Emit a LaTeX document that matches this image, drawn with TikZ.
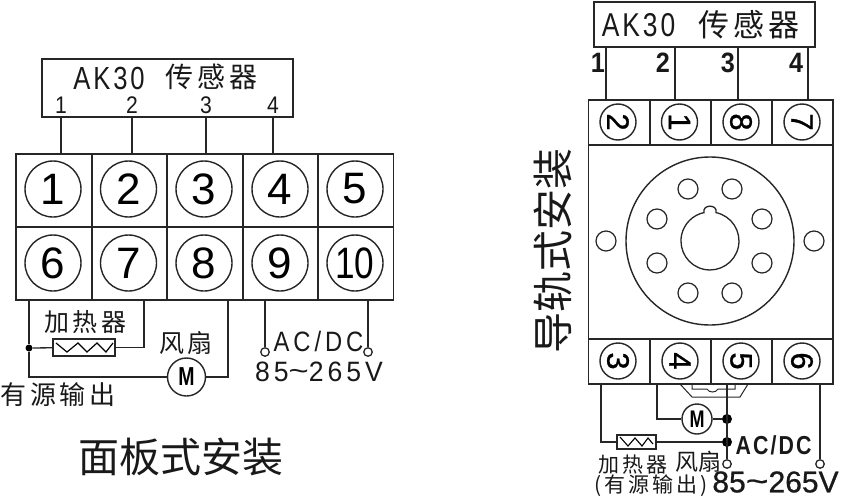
\documentclass[tikz,border=0pt]{standalone}
\usepackage{fontspec}
\setmainfont{Liberation Sans}
\newfontfamily\numf{Liberation Sans}
\newfontfamily\rotf[FakeBold=.8]{Liberation Sans}
\newfontfamily\tenf[FakeStretch=.8]{Liberation Sans}
\newfontfamily\headf[FakeStretch=.8,LetterSpace=9]{Liberation Sans}
\newfontfamily\smallf[FakeStretch=.88]{Liberation Sans}
\newfontfamily\pinf[FakeStretch=.9]{Liberation Sans}
\newfontfamily\acf[FakeStretch=.85,LetterSpace=14]{Liberation Sans}
\newfontfamily\voltf[FakeStretch=.95,LetterSpace=14]{Liberation Sans}
\newfontfamily\boldf[FakeStretch=.82,LetterSpace=8]{Liberation Sans}
\newfontfamily\rvoltf[FakeBold=.8]{Liberation Sans}
\newfontfamily\mf[FakeStretch=.75]{Liberation Sans}
\newfontfamily\cjk[LetterSpace=14]{Noto Sans CJK SC}
\newfontfamily\cjktight{Noto Sans CJK SC}
\newcommand{\fsz}[1]{\fontsize{#1}{#1}\selectfont}
\newcommand{\wtilde}{\raisebox{1pt}{\scalebox{1.3}[1]{\textasciitilde}}}
\tikzset{
  wire/.style={line width=1.3pt,black!85},
  frame/.style={draw=black!85,line width=1.6pt,inner sep=0pt,fill=white},
  ring/.style={circle,draw=black!85,line width=1.4pt,inner sep=0pt,minimum size=#1},
  label/.style={inner sep=0pt,text=black!90},
  term/.style={circle,draw=black!85,line width=1.3pt,fill=white,inner sep=0pt,minimum size=8.5pt},
  junction/.style={circle,fill=black,inner sep=0pt,minimum size=#1},
  heater/.style={draw=black!85,line width=1.4pt,fill=white,inner sep=0pt},
  hole/.style={circle,draw=black!85,line width=1.2pt,inner sep=0pt,minimum size=20pt},
}
\begin{document}
\begin{tikzpicture}[x=1pt,y=-1pt]
\useasboundingbox (0,0) rectangle (841,498);
% ---------- panel mount ----------
\node[frame,minimum width=251pt,minimum height=58pt] (lsens) at (167.5,88) {};
\node[label] (lsenstxt) at (109,78) {\fsz{32}\headf AK30};
\node[label] (lsenscn) at (211.5,77) {\fsz{28}\cjk 传感器};
\foreach \n/\x in {1/61,2/132,3/206,4/273}{
  \node[label] (ln\n) at (\x,105) {\fsz{24}\smallf \n};
  \coordinate (ls\n) at (\x,117);
  \coordinate (lt\n) at (\x,153);
  \draw[wire] (ls\n) -- (lt\n);
}
\foreach \i/\xa/\cx in {1/15/53,2/91/128.5,3/166/204,4/242/280,5/317/355}{
  \node[frame,anchor=north west,minimum width=75.5pt,minimum height=73pt] (lc\i) at (\xa,153) {};
  \node[ring=56pt] (lr\i) at (\cx,189) {\fsz{44}\numf \i};
}
\foreach \i/\xa/\cx in {6/15/53,7/91/128.5,8/166/204,9/242/280}{
  \node[frame,anchor=north west,minimum width=75.5pt,minimum height=73pt] (lc\i) at (\xa,226) {};
  \node[ring=56pt] (lr\i) at (\cx,263) {\fsz{44}\numf \i};
}
\node[frame,anchor=north west,minimum width=75.5pt,minimum height=73pt] (lc10) at (317,226) {};
\node[ring=56pt] (lr10) at (355,263) {\fsz{44}\tenf 10};
% wiring
\coordinate (w6) at (29,299);
\coordinate (w7) at (144,299);
\coordinate (w8) at (228,299);
\coordinate (w9) at (265,299);
\coordinate (w10) at (368,299);
\node[junction=7pt] (ldot) at (29,348) {};
\node[heater,minimum width=62pt,minimum height=17pt] (lheat) at (84,347.5) {};
\node[ring=38pt,fill=white] (lmot) at (186.5,377) {\fsz{26}\mf\bfseries M};
\draw[wire] (w6) -- (ldot) -- (29,377) -- (lmot);
\draw[wire] (ldot) -- (lheat);
\draw[wire] (lheat) -- (144,347.5) -- (w7);
\draw[wire] (lmot) -- (228,377) -- (w8);
\draw[line width=1.2pt] (56,343) -- (67,352) -- (78,343) -- (87,352) -- (97,343) -- (106,352) -- (113,343);
\node[term] (lta) at (265,352) {};
\node[term] (ltb) at (368,352) {};
\draw[wire] (w9) -- (lta);
\draw[wire] (w10) -- (ltb);
\node[label] (lhl) at (85,322) {\fsz{25}\cjk 加热器};
\node[label] (lfl) at (186,343) {\fsz{25}\cjk 风扇};
\node[label] (lyl) at (58,395) {\fsz{26}\cjk 有源输出};
\node[label] (lac) at (318.5,341) {\fsz{28}\acf AC/DC};
\node[label] (lv) at (319,372) {\fsz{28}\voltf 85\wtilde 265V};
\node[label] (ltitle) at (181,457) {\fsz{41}\cjktight 面板式安装};
% ---------- rail mount ----------
\node[frame,minimum width=221pt,minimum height=45pt] (rsens) at (704.5,24.5) {};
\node[label] (rsenstxt) at (638.5,25) {\fsz{33}\headf AK30};
\node[label] (rsenscn) at (749,25) {\fsz{31}\cjk 传感器};
\foreach \n/\x/\lx in {1/606/598,2/675/663,3/738/728,4/808/796}{
  \coordinate (rs\n) at (\x,47);
  \coordinate (rt\n) at (\x,99);
  \draw[wire] (rs\n) -- (rt\n);
  \node[label] (rn\n) at (\lx,63) {\fsz{28}\pinf\bfseries \n};
}
% body
\node[frame,anchor=north west,minimum width=244.5pt,minimum height=194pt] (body) at (587.5,144) {};
\foreach \n/\xa/\cx in {2/587.5/618,1/649/679.5,8/710/741,7/771/802}{
  \node[frame,anchor=north west,minimum width=61pt,minimum height=45pt] (rc\n) at (\xa,99) {};
  \node[ring=36pt] (rr\n) at (\cx,122) {\rotatebox{-90}{\fsz{31}\rotf \n}};
}
\foreach \n/\xa/\cx in {3/587.5/618,4/649/680,5/710/741,6/771/802}{
  \node[frame,anchor=north west,minimum width=61pt,minimum height=45pt] (rc\n) at (\xa,338) {};
  \node[ring=36pt] (rr\n) at (\cx,361) {\rotatebox{-90}{\fsz{31}\rotf \n}};
}
\node[ring=168pt] (base) at (710,241) {};
\draw[line width=1.3pt,black!85]
  (704,212.6) .. controls (702,204) and (718,204) .. (716,212.6)
  arc[start angle=-78,end angle=258,radius=29] -- cycle;
\foreach \k/\x/\y in {a/688/189,b/732/189,c/657/219,d/762/219,e/657/263,f/762/263,g/688/293,h/732/293,i/606/241,j/814/241}{
  \node[hole] (h\k) at (\x,\y) {};
}
\node[label,rotate=90] (rtitle) at (553,251) {\fsz{41}\cjktight 导轨式安装};
% bridge under terminals
\draw[line width=1pt,black!85] (680,384) -- (692,397) -- (740,397) -- (748,384);
\draw[line width=1pt,black!85] (692,384) -- (692,389) -- (707,389) .. controls (709,393) and (716,393) .. (718,389) -- (735,389) -- (735,384);
% rail wiring
\coordinate (b3) at (601,383);
\coordinate (b4) at (657,383);
\coordinate (b5) at (727,383);
\coordinate (b6) at (820,383);
\node[heater,minimum width=39pt,minimum height=14pt] (rheat) at (636.5,442) {};
\draw[line width=1.1pt] (620,437) -- (628,446) -- (635,438) -- (642,446) -- (648,438) -- (653,444);
\node[ring=30pt,fill=white] (rmot) at (697,419) {\fsz{24}\mf\bfseries M};
\node[junction=10pt] (rd1) at (727,419) {};
\node[junction=10pt] (rd2) at (727,442) {};
\node[term] (rta) at (727,464) {};
\node[term] (rtb) at (820,464) {};
\draw[wire] (b3) -- (601,442) -- (rheat);
\draw[wire] (rheat) -- (rd2);
\draw[wire] (b4) -- (657,419) -- (rmot);
\draw[wire] (rmot) -- (rd1);
\draw[wire] (b5) -- (rta);
\draw[wire] (b6) -- (rtb);
\node[label] (rac) at (773.5,445) {\fsz{26}\boldf\bfseries AC/DC};
\node[label] (rv) at (775.5,482) {\fsz{30}\rvoltf 85\wtilde 265V};
\node[label] (rhl) at (633,465) {\fsz{21}\cjk 加热器};
\node[label] (rfl) at (698,462) {\fsz{23}\cjktight 风扇};
\node[label] (ryl) at (651,486) {\fsz{21}\cjk (有源输出)};
\end{tikzpicture}
\end{document}
